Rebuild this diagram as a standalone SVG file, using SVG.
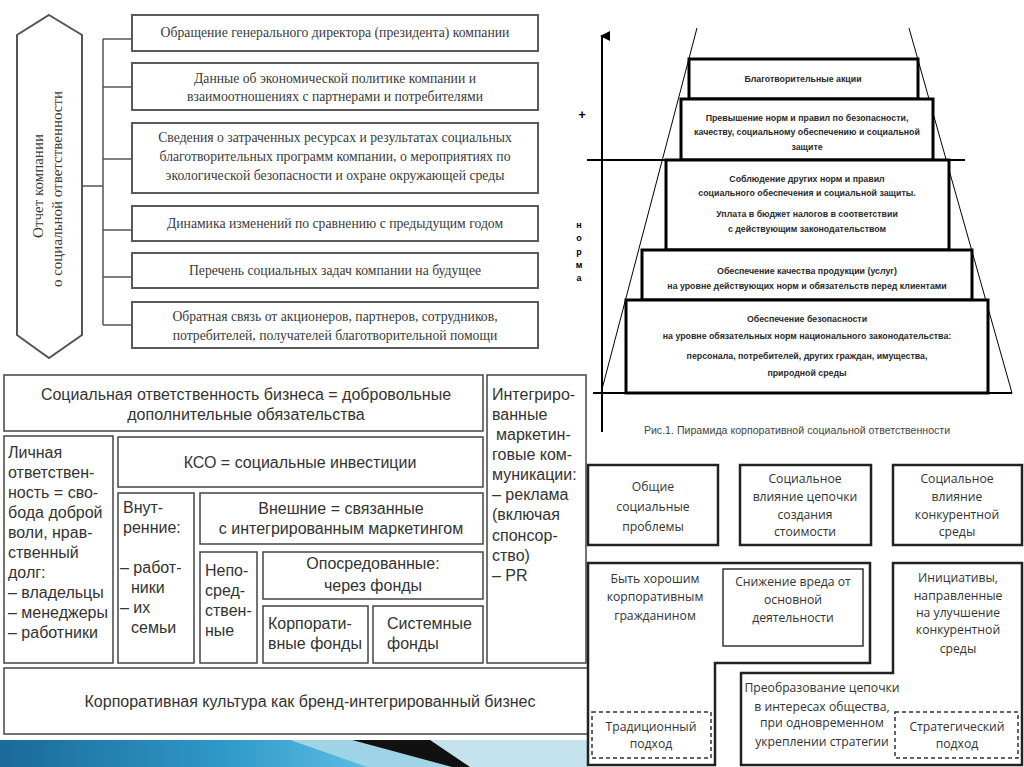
<svg xmlns="http://www.w3.org/2000/svg" width="1024" height="767" viewBox="0 0 1024 767">
<defs>
<style>
.ser{font-family:"Liberation Serif","DejaVu Serif",serif;font-size:13.7px;fill:#3a3a3a;text-anchor:middle}
.tb{fill:#fff;stroke:#5a5a5a;stroke-width:2}
.py{font-family:"Liberation Sans",Arial,sans-serif;font-size:8.8px;font-weight:bold;fill:#2a2a2a;text-anchor:middle}
.pb{fill:#fff;stroke:#000;stroke-width:3}
.sa{font-family:"Liberation Sans",Arial,sans-serif;font-size:16px;fill:#333}
.bl{fill:#fff;stroke:#444;stroke-width:1.5}
.os{font-family:"Open Sans","Noto Sans",sans-serif;font-size:12.2px;fill:#333;text-anchor:middle}
.br{fill:#fff;stroke:#222;stroke-width:2.5}
.dash{fill:none;stroke:#333;stroke-width:1.5;stroke-dasharray:4 3}
.ln{stroke:#555;stroke-width:1.5;fill:none}
</style>
<linearGradient id="blue" x1="0" y1="0" x2="1" y2="0">
<stop offset="0" stop-color="#1a6a98"/>
<stop offset="0.6" stop-color="#2f98c8"/>
<stop offset="1" stop-color="#5cbde2"/>
</linearGradient>
<marker id="arr" viewBox="0 0 10 10" refX="5" refY="2" markerWidth="5" markerHeight="7" orient="auto-start-reverse">
<path d="M0,10 L5,0 L10,10 z" fill="#000"/>
</marker>
</defs>
<rect width="1024" height="767" fill="#fff"/>

<!-- Top-left: report structure -->
<g id="connectors">
<path class="ln" d="M82,186 H103 M103,39 V325 M103,39 H132 M103,87 H132 M103,159 H132 M103,230 H132 M103,277 H132 M103,325 H132"/>
</g>
<g id="report">
<polygon points="49,15 82,35 82,335 49,358 17,335 17,35" fill="#fff" stroke="#555" stroke-width="2"/>
<text class="ser" style="font-size:15px" transform="translate(43,186) rotate(-90)">Отчет компании</text>
<text class="ser" style="font-size:15px" transform="translate(62,189) rotate(-90)">о социальной ответственности</text>
</g>
<g id="r1"><rect class="tb" x="132" y="15" width="406" height="36"/><text class="ser" x="335" y="37">Обращение генерального директора (президента) компании</text></g>
<g id="r2"><rect class="tb" x="132" y="63" width="406" height="47"/><text class="ser" x="335" y="83">Данные об экономической политике компании и</text><text class="ser" x="335" y="101">взаимоотношениях с партнерами и потребителями</text></g>
<g id="r3"><rect class="tb" x="132" y="123" width="406" height="70"/><text class="ser" x="335" y="142">Сведения о затраченных ресурсах и результатах социальных</text><text class="ser" x="335" y="161">благотворительных программ компании, о мероприятиях по</text><text class="ser" x="335" y="180">экологической безопасности и охране окружающей среды</text></g>
<g id="r4"><rect class="tb" x="132" y="206" width="406" height="35"/><text class="ser" x="335" y="228">Динамика изменений по сравнению с предыдущим годом</text></g>
<g id="r5"><rect class="tb" x="132" y="253" width="406" height="35"/><text class="ser" x="335" y="275">Перечень социальных задач компании на будущее</text></g>
<g id="r6"><rect class="tb" x="132" y="302" width="406" height="46"/><text class="ser" x="335" y="321">Обратная связь от акционеров, партнеров, сотрудников,</text><text class="ser" x="335" y="340">потребителей, получателей благотворительной помощи</text></g>

<!-- Pyramid -->
<g id="pyramid-axes">
<line x1="602" y1="432" x2="602" y2="36" stroke="#000" stroke-width="2" marker-end="url(#arr)"/>
<line x1="587" y1="160" x2="965" y2="160" stroke="#000" stroke-width="2"/>
<line x1="593" y1="393" x2="1012" y2="393" stroke="#000" stroke-width="2"/>
<line x1="697" y1="28" x2="601" y2="393" stroke="#000" stroke-width="1"/>
<line x1="909" y1="28" x2="1012" y2="393" stroke="#000" stroke-width="1"/>
<text x="582" y="119" style="font-family:'Liberation Sans',sans-serif;font-size:13px;font-weight:bold;text-anchor:middle">+</text>
<g style="font-family:'Liberation Sans',sans-serif;font-size:9px;font-weight:bold;text-anchor:middle">
<text x="579" y="228">н</text><text x="579" y="241">о</text><text x="579" y="255">р</text><text x="579" y="268">м</text><text x="579" y="281">а</text>
</g>
</g>
<g id="p1"><rect class="pb" x="689" y="59" width="229" height="40"/><text class="py" x="803" y="82">Благотворительные акции</text></g>
<g id="p2"><rect class="pb" x="681" y="99" width="252" height="61"/><text class="py" x="807" y="121">Превышение норм и правил по безопасности,</text><text class="py" x="807" y="135">качеству, социальному обеспечению и социальной</text><text class="py" x="807" y="150">защите</text></g>
<g id="p3"><rect class="pb" x="666" y="160" width="283" height="90"/><text class="py" x="807" y="182">Соблюдение других норм и правил</text><text class="py" x="807" y="196">социального обеспечения и социальной защиты.</text><text class="py" x="807" y="217">Уплата в бюджет налогов в соответствии</text><text class="py" x="807" y="232">с действующим законодательством</text></g>
<g id="p4"><rect class="pb" x="642" y="250" width="330" height="50"/><text class="py" x="807" y="274">Обеспечение качества продукции (услуг)</text><text class="py" x="807" y="289">на уровне действующих норм и обязательств перед клиентами</text></g>
<g id="p5"><rect class="pb" x="626" y="300" width="362" height="93"/><text class="py" x="807" y="322">Обеспечение безопасности</text><text class="py" x="807" y="339">на уровне обязательных норм национального законодательства:</text><text class="py" x="807" y="359">персонала, потребителей, других граждан, имущества,</text><text class="py" x="807" y="376">природной среды</text></g>
<text x="797" y="434" style="font-family:'Liberation Sans',sans-serif;font-size:10.6px;fill:#444;text-anchor:middle">Рис.1. Пирамида корпоративной социальной ответственности</text>

<!-- Bottom-left -->
<g id="b-title"><rect class="bl" x="4" y="375" width="479" height="56"/><text class="sa" x="246" y="400" text-anchor="middle">Социальная ответственность бизнеса = добровольные</text><text class="sa" x="246" y="420" text-anchor="middle">дополнительные обязательства</text></g>
<g id="b-imc"><rect class="bl" x="487" y="375" width="99" height="288"/>
<text class="sa" x="492"><tspan x="492" y="400">Интегриро-</tspan><tspan x="492" y="420">ванные</tspan><tspan x="496" y="440">маркетин-</tspan><tspan x="492" y="460">говые ком-</tspan><tspan x="492" y="480">муникации:</tspan><tspan x="492" y="500">– реклама</tspan><tspan x="492" y="520">(включая</tspan><tspan x="492" y="541">спонсор-</tspan><tspan x="492" y="561">ство)</tspan><tspan x="492" y="581">– PR</tspan></text></g>
<g id="b-personal"><rect class="bl" x="4" y="436" width="109" height="227"/>
<text class="sa"><tspan x="8" y="458">Личная</tspan><tspan x="8" y="478">ответствен-</tspan><tspan x="8" y="498">ность = сво-</tspan><tspan x="8" y="518">бода доброй</tspan><tspan x="8" y="538">воли, нрав-</tspan><tspan x="8" y="558">ственный</tspan><tspan x="8" y="578">долг:</tspan><tspan x="8" y="598">– владельцы</tspan><tspan x="8" y="618">– менеджеры</tspan><tspan x="8" y="638">– работники</tspan></text></g>
<g id="b-kso"><rect class="bl" x="118" y="437" width="365" height="50"/><text class="sa" x="300" y="468" text-anchor="middle">КСО = социальные инвестиции</text></g>
<g id="b-internal"><rect class="bl" x="118" y="493" width="76" height="170"/>
<text class="sa"><tspan x="123" y="513">Внут-</tspan><tspan x="123" y="533">ренние:</tspan><tspan x="120" y="573">– работ-</tspan><tspan x="131" y="593">ники</tspan><tspan x="120" y="613">– их</tspan><tspan x="131" y="633">семьи</tspan></text></g>
<g id="b-external"><rect class="bl" x="200" y="493" width="283" height="51"/><text class="sa" x="341" y="514" text-anchor="middle">Внешние = связанные</text><text class="sa" x="341" y="534" text-anchor="middle">с интегрированным маркетингом</text></g>
<g id="b-direct"><rect class="bl" x="200" y="552" width="57" height="111"/>
<text class="sa"><tspan x="205" y="576">Непо-</tspan><tspan x="205" y="596">сред-</tspan><tspan x="205" y="616">ствен-</tspan><tspan x="205" y="636">ные</tspan></text></g>
<g id="b-mediated"><rect class="bl" x="263" y="552" width="220" height="47"/><text class="sa" x="373" y="569" text-anchor="middle">Опосредованные:</text><text class="sa" x="373" y="591" text-anchor="middle">через фонды</text></g>
<g id="b-corpf"><rect class="bl" x="263" y="606" width="105" height="57"/><text class="sa"><tspan x="268" y="629">Корпорати-</tspan><tspan x="268" y="649">вные фонды</tspan></text></g>
<g id="b-sysf"><rect class="bl" x="373" y="606" width="110" height="57"/><text class="sa"><tspan x="387" y="629">Системные</tspan><tspan x="387" y="649">фонды</tspan></text></g>
<g id="b-culture"><rect class="bl" x="4" y="668" width="584" height="66"/><text class="sa" x="310" y="707" text-anchor="middle">Корпоративная культура как бренд-интегрированный бизнес</text></g>

<!-- slide banner -->
<g id="banner">
<rect x="0" y="740" width="588" height="27" fill="#c4e3ee"/>
<polygon points="0,740 291,740 368,767 0,767" fill="url(#blue)"/>
<polygon points="291,740 352,740 452,767 368,767" fill="#9fd3e6"/>
<polygon points="352,740 430,740 470,767 452,767" fill="#111"/>
</g>

<!-- Bottom-right -->
<g id="c1"><rect class="br" x="588" y="465" width="130" height="80"/><text class="os" x="653" y="491">Общие</text><text class="os" x="653" y="511">социальные</text><text class="os" x="653" y="531">проблемы</text></g>
<g id="c2"><rect class="br" x="740" y="465" width="131" height="80"/><text class="os" x="805" y="483">Социальное</text><text class="os" x="805" y="501">влияние цепочки</text><text class="os" x="805" y="519">создания</text><text class="os" x="805" y="536">стоимости</text></g>
<g id="c3"><rect class="br" x="893" y="465" width="129" height="80"/><text class="os" x="957" y="483">Социальное</text><text class="os" x="957" y="501">влияние</text><text class="os" x="957" y="519">конкурентной</text><text class="os" x="957" y="536">среды</text></g>
<g id="traditional">
<polygon class="br" points="588,563 870,563 870,663 715,663 715,765 588,765"/>
<text class="os" x="655" y="583">Быть хорошим</text><text class="os" x="655" y="601">корпоративным</text><text class="os" x="655" y="620">гражданином</text>
<rect x="723" y="569" width="140" height="77" fill="#fff" stroke="#333" stroke-width="1.5"/>
<text class="os" x="793" y="586">Снижение вреда от</text><text class="os" x="793" y="604">основной</text><text class="os" x="793" y="622">деятельности</text>
<rect class="dash" x="592" y="712" width="119" height="46"/>
<text class="os" x="651" y="731">Традиционный</text><text class="os" x="651" y="748">подход</text>
</g>
<g id="strategic">
<polygon class="br" points="741,673 893,673 893,563 1022,563 1022,765 741,765"/>
<text class="os" x="958" y="582">Инициативы,</text><text class="os" x="958" y="600">направленные</text><text class="os" x="958" y="617">на улучшение</text><text class="os" x="958" y="634">конкурентной</text><text class="os" x="958" y="653">среды</text>
<text class="os" x="822" y="692">Преобразование цепочки</text><text class="os" x="822" y="711">в интересах общества,</text><text class="os" x="822" y="727">при одновременном</text><text class="os" x="822" y="746">укреплении стратегии</text>
<rect class="dash" x="895" y="712" width="123" height="46"/>
<text class="os" x="957" y="731">Стратегический</text><text class="os" x="957" y="748">подход</text>
</g>
</svg>
